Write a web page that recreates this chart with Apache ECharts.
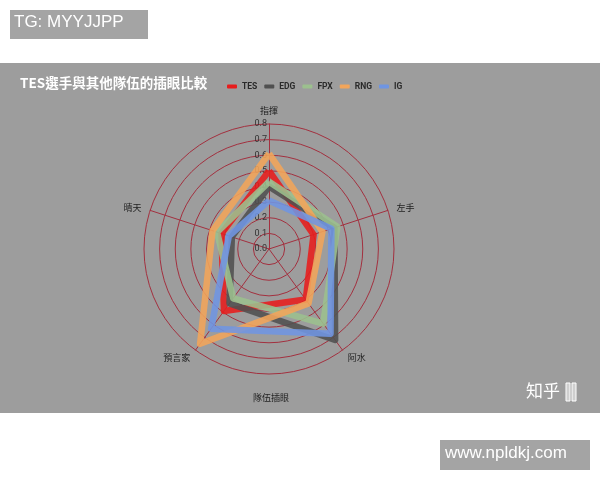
<!DOCTYPE html>
<html>
<head>
<meta charset="utf-8">
<script src="https://cdn.jsdelivr.net/npm/echarts@6/dist/echarts.min.js"></script>
<style>
html,body{margin:0;padding:0;background:#fff;}
#c{width:600px;height:480px;}
</style>
</head>
<body>
<div id="c"></div>
<script>
const indicators = ['指揮', '晴天', '預言家', '阿水', '左手'];
const teams = ['TES', 'EDG', 'FPX', 'RNG', 'IG'];
const TES = [0.50, 0.32, 0.49, 0.40, 0.30];
const EDG = [0.40, 0.25, 0.43, 0.72, 0.44];
const FPX = [0.43, 0.35, 0.39, 0.59, 0.46];
const RNG = [0.61, 0.38, 0.75, 0.43, 0.36];
const IG  = [0.31, 0.27, 0.63, 0.67, 0.42];
const teamValues = [TES, EDG, FPX, RNG, IG];
const colors = ['#e81c1c', '#505050', '#9cc08e', '#f2a55a', '#6f95e2'];
const maxValue = 0.8;

const chart = echarts.init(document.getElementById('c'));
const cjk = '"Noto Sans CJK TC", "Noto Sans CJK SC", sans-serif';
chart.setOption({
  backgroundColor: '#ffffff',
  animation: false,
  color: colors,
  title: {
    text: 'TES選手與其他隊伍的插眼比較',
    left: 15, top: 71,
    textStyle: {color: '#ffffff', fontSize: 13.5, fontWeight: 'bold', fontFamily: cjk}
  },
  legend: {
    data: teams,
    left: 222, top: 77,
    icon: 'roundRect',
    itemWidth: 10, itemHeight: 4,
    itemGap: 7,
    textStyle: {color: '#2a2a2a', fontSize: 8.5, fontWeight: 'bold', fontFamily: 'Roboto, sans-serif'}
  },
  graphic: [
    {type: 'rect', z: -10, shape: {x: 0, y: 63, width: 600, height: 350}, style: {fill: '#9d9d9d'}},
    {type: 'rect', shape: {x: 10, y: 10, width: 138, height: 29}, style: {fill: '#a4a4a4'}},
    {type: 'text', x: 14, y: 14, style: {text: 'TG: MYYJJPP', fill: '#fff', font: '17px "Liberation Sans", Arial, sans-serif'}},
    {type: 'rect', shape: {x: 440, y: 440, width: 150, height: 30}, style: {fill: '#a4a4a4'}},
    {type: 'text', x: 445, y: 445, style: {text: 'www.npldkj.com', fill: '#fff', font: '17px "Liberation Sans", Arial, sans-serif'}},
    {type: 'text', x: 253, y: 393, style: {text: '隊伍插眼', fill: '#222', font: '9px ' + cjk}},
    {type: 'text', x: 526, y: 382, style: {text: '知乎', fill: '#fff', font: '17px ' + cjk}},
    {type: 'rect', shape: {x: 566, y: 383, width: 4, height: 18}, style: {fill: '#cfcfcf', stroke: '#fff', lineWidth: 1}},
    {type: 'rect', shape: {x: 572, y: 383, width: 4, height: 18}, style: {fill: '#cfcfcf', stroke: '#fff', lineWidth: 1}}
  ],
  radar: {
    center: [269, 249],
    radius: 125,
    shape: 'circle',
    splitNumber: 8,
    startAngle: 90,
    indicator: indicators.map((n, i) => ({
      name: n, min: 0, max: maxValue,
      axisLabel: {show: i === 0}
    })),
    axisName: {color: '#222', fontSize: 9, fontFamily: cjk},
    nameGap: 9,
    axisLine: {lineStyle: {color: '#a3303f', width: 1}},
    splitLine: {lineStyle: {color: '#a3303f', width: 1}},
    splitArea: {show: false},
    axisLabel: {
      show: false, color: '#333', fontSize: 9, fontFamily: 'Roboto, sans-serif',
      margin: 2, padding: [0, 0, 8, 0],
      formatter: v => v.toFixed(1)
    }
  },
  series: [{
    type: 'radar',
    symbol: 'none',
    lineStyle: {width: 6.5, opacity: 0.88},
    data: teams.map((t, i) => ({
      name: t,
      value: teamValues[i],
      lineStyle: {color: colors[i]},
      itemStyle: {color: colors[i]}
    }))
  }]
});
</script>
</body>
</html>
